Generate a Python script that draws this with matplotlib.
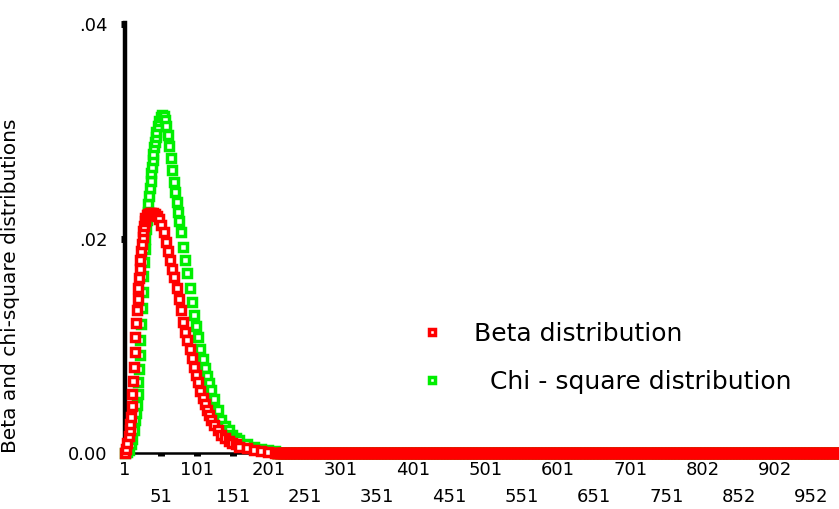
import numpy as np
import matplotlib.pyplot as plt

beta_x = [1, 3, 5, 7, 8, 9, 10, 11, 12, 13, 14, 15, 16, 17, 18, 19, 20,
          21, 22, 23, 24, 25, 26, 27, 28, 29, 30, 32, 34, 36, 38, 40, 43, 46, 49,
          52, 55, 58, 61, 64, 67, 70, 73, 76, 79, 82, 85, 88, 91, 94, 97, 100,
          103, 106, 109, 112, 115, 118, 121, 125, 130, 135, 140, 145, 150, 155,
          160, 170, 180, 190, 200, 210]
beta_y = [0.0000, 0.0004, 0.0009, 0.0016, 0.0021, 0.0027, 0.0034, 0.0044, 0.0055,
          0.0067, 0.0080, 0.0094, 0.0108, 0.0121, 0.0133, 0.0144, 0.0154, 0.0163,
          0.0172, 0.0180, 0.0188, 0.0195, 0.0201, 0.0207, 0.0212, 0.0216, 0.0219,
          0.0222, 0.0223, 0.0224, 0.0224, 0.0224, 0.0223, 0.0221, 0.0218, 0.0213,
          0.0206, 0.0197, 0.0188, 0.0180, 0.0172, 0.0164, 0.0154, 0.0144, 0.0133,
          0.0122, 0.0113, 0.0105, 0.0097, 0.0089, 0.0080, 0.0073, 0.0066, 0.0058,
          0.0051, 0.0046, 0.0040, 0.0035, 0.0031, 0.0026, 0.0021, 0.0017, 0.0014,
          0.0011, 0.0009, 0.0008, 0.0006, 0.0005, 0.0003, 0.0002, 0.0001, 0.0000]

chi_x = [1, 4, 7, 10, 12, 14, 16, 17, 18, 19, 20,
         21, 22, 23, 24, 25, 26, 27, 28, 29, 30, 31, 32, 33, 34, 35, 36, 37, 38,
         39, 40, 41, 42, 43, 44, 45, 47, 49, 51, 53, 55, 57, 59, 61, 63, 65, 67,
         69, 71, 73, 75, 77, 79, 82, 85, 88, 91, 94, 97, 100, 103, 106, 109, 112,
         115, 118, 121, 125, 130, 135, 140, 145, 150, 155, 160, 170, 180, 190,
         200, 210]
chi_y = [0.0000, 0.0001, 0.0003, 0.0008, 0.0013, 0.0021, 0.0031, 0.0037, 0.0045,
         0.0055, 0.0066, 0.0078, 0.0091, 0.0105, 0.0120, 0.0135, 0.0150, 0.0165,
         0.0178, 0.0190, 0.0200, 0.0209, 0.0217, 0.0225, 0.0232, 0.0240, 0.0247,
         0.0254, 0.0261, 0.0267, 0.0273, 0.0279, 0.0285, 0.0290, 0.0295, 0.0299,
         0.0305, 0.0310, 0.0313, 0.0315, 0.0314, 0.0311, 0.0305, 0.0297, 0.0286,
         0.0275, 0.0264, 0.0253, 0.0243, 0.0234, 0.0225, 0.0216, 0.0206, 0.0192,
         0.0180, 0.0168, 0.0154, 0.0141, 0.0129, 0.0118, 0.0108, 0.0097, 0.0088,
         0.0079, 0.0072, 0.0065, 0.0059, 0.0050, 0.0040, 0.0031, 0.0025, 0.0021,
         0.0017, 0.0014, 0.0012, 0.0008, 0.0006, 0.0004, 0.0003, 0.0002]

# both series sit on zero for the rest of the range
tail_x = list(range(212, 1001, 2))
tail_y = [0.0] * len(tail_x)

top_ticks = [1, 101, 201, 301, 401, 501, 601, 701, 801, 901]
top_labels = ['1', '101', '201', '301', '401', '501', '601', '701', '802', '902']
bottom_ticks = [51, 151, 251, 351, 451, 551, 651, 751, 851, 951]
bottom_labels = ['51', '151', '251', '351', '451', '551', '651', '751', '852', '952']

y_ticks = [0.0, 0.02, 0.04]
y_labels = ['0.00', '.02', '.04']

RED = '#ff0000'
GREEN = '#00ee00'

fig = plt.figure(figsize=(8.39, 5.09), dpi=100)
ax = fig.add_axes([0.1484, 0.110, 0.8516, 0.8448])

mk = dict(marker='s', linestyle='none', markersize=5.2, markeredgewidth=2.5,
          markerfacecolor='white', clip_on=False)

ax.plot(chi_x + tail_x, chi_y + tail_y, markeredgecolor=GREEN, zorder=3,
        label='  Chi - square distribution', **mk)
ax.plot(beta_x + tail_x, beta_y + tail_y, markeredgecolor=RED, zorder=4,
        label='Beta distribution', **mk)

ax.set_xlim(1, 990)
ax.set_ylim(0, 0.0401)

ax.spines['top'].set_visible(False)
ax.spines['right'].set_visible(False)
ax.spines['left'].set_linewidth(3.2)
ax.spines['bottom'].set_linewidth(1.8)

ax.set_xticks(top_ticks)
ax.set_xticklabels(top_labels)
ax.set_xticks(bottom_ticks, minor=True)
ax.set_xticklabels(bottom_labels, minor=True)
ax.tick_params(axis='x', which='major', length=2.5, width=5, pad=3, labelsize=13)
ax.tick_params(axis='x', which='minor', length=2.5, width=5, pad=23, labelsize=13)

ax.set_yticks(y_ticks)
ax.set_yticklabels(y_labels)
ax.tick_params(axis='y', length=3, width=5, pad=9, labelsize=13)

ax.set_ylabel('Beta and chi-square distributions', fontsize=14.5)
ax.yaxis.set_label_coords(-0.146, 0.388)

handles, labels = ax.get_legend_handles_labels()
ax.legend(handles[::-1], labels[::-1], loc='upper left',
          bbox_to_anchor=(0.5, 0.367), bbox_transform=fig.transFigure,
          frameon=False, fontsize=18, handlelength=1.0, handletextpad=1.2,
          borderpad=0, borderaxespad=0, labelspacing=0.95, markerscale=0.8)

fig.savefig('out.png', dpi=100)
